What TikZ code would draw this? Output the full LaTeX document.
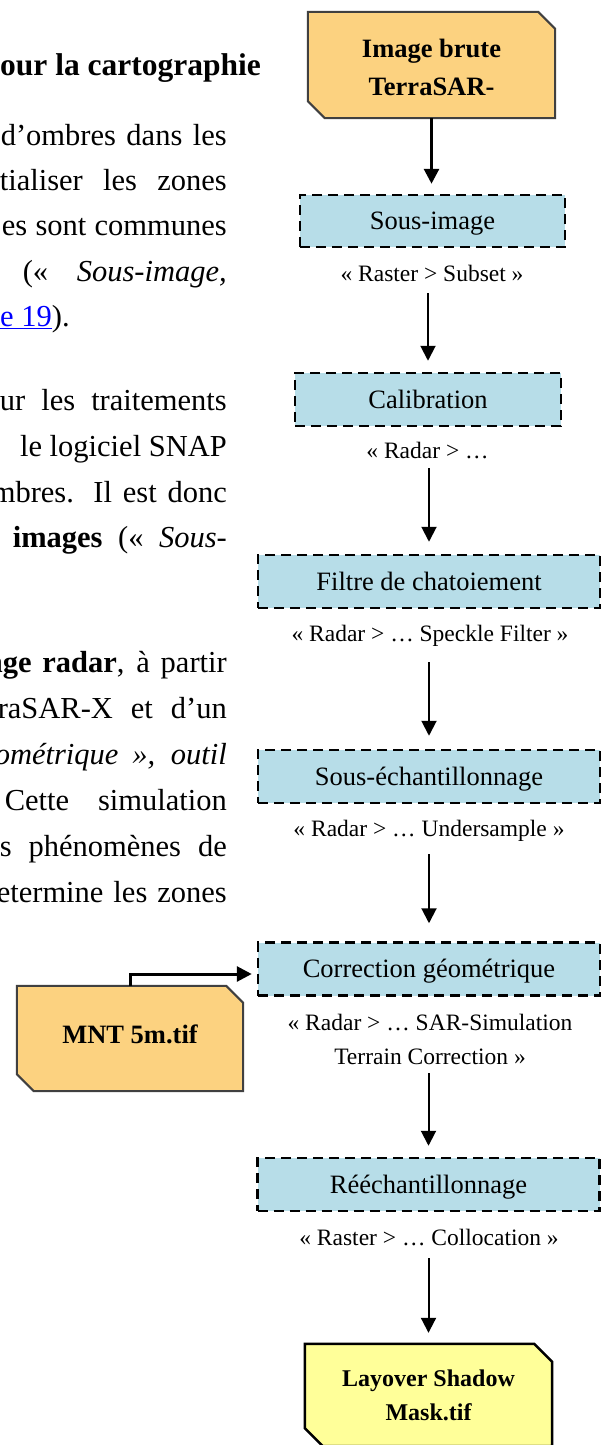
\documentclass[tikz,border=0pt]{standalone}
\usepackage{fontspec}
\setmainfont{Liberation Serif}
\usetikzlibrary{arrows.meta,backgrounds}
\definecolor{orangefill}{RGB}{252,210,128}
\definecolor{bluefill}{RGB}{183,221,232}
\definecolor{yellowfill}{RGB}{255,255,153}
\definecolor{framegray}{RGB}{64,64,64}
\definecolor{linkblue}{RGB}{0,0,255}
\newlength\jlwd
\newcommand\jline[2]{\settowidth\jlwd{#2}\ifdim\jlwd<#1\relax\makebox[#1][s]{#2}\else #2\fi}
\newcommand\cutbox[3]{\path[#3] (#1.north west) -- ([xshift=-#2]#1.north east) -- ([yshift=-#2]#1.north east) -- (#1.south east) -- ([xshift=#2]#1.south west) -- ([yshift=#2]#1.south west) -- cycle;}
\begin{document}
\begin{tikzpicture}[x=1pt,y=-1pt,
  dbox/.style={draw=black, line width=2.5pt, dash pattern=on 10pt off 6pt, fill=bluefill, inner sep=0pt,
    font=\fontsize{26.5}{32}\selectfont, text height=22pt, text depth=5pt},
  wide/.style={minimum width=342pt, minimum height=53pt},
  lbl/.style={inner sep=0pt, anchor=base, font=\fontsize{23.5}{34}\selectfont, text depth=0pt},
  body/.style={inner sep=0pt, anchor=base east, font=\fontsize{30.5}{45}\selectfont},
  tbox/.style={inner sep=0pt, font=\bfseries\fontsize{26.5}{38}\selectfont},
  arr/.style={draw=black, line width=2pt, -{Triangle[width=15pt,length=15pt]}},
]
\useasboundingbox (0,0) rectangle (601,1445);
\begin{scope}[on background layer]
  \fill[white] (0,0) rectangle (601,1445);
\end{scope}

% cropped page text on the left
\begin{scope}
\clip (0,0) rectangle (601,1445);
\node[body, anchor=base west] (t0) at (0,75) {\bfseries\fontsize{31.5}{40}\selectfont our la cartographie};
\node[body] (t1) at (227,145) {\jline{226pt}{d’ombres dans les}};
\node[body] (t2) at (227,190) {\jline{227pt}{tialiser les zones}};
\node[body] (t3) at (227,235) {\jline{225pt}{es sont communes}};
\node[body] (t4) at (227,281) {\jline{204pt}{(« \textit{Sous-image,}}};
\node[body, anchor=base west] (t5) at (0,326) {\textcolor{linkblue}{\underline{e 19}}).};
\node[body] (t6) at (227,410) {\jline{227pt}{ur les traitements}};
\node[body] (t7) at (227,456) {\jline{187pt}{le logiciel SNAP}};
\node[body] (t8) at (227,502) {\jline{235pt}{mbres. Il est donc}};
\node[body] (t9) at (227,547) {\jline{214pt}{\textbf{images} (« \textit{Sous-}}};
\node[body] (t10) at (227,672) {\jline{241pt}{\textbf{nge radar}, à partir}};
\node[body] (t11) at (227,718) {\jline{229pt}{raSAR-X et d’un}};
\node[body] (t12) at (227,764) {\jline{232pt}{\textit{ométrique », outil}}};
\node[body] (t13) at (227,810) {\jline{222pt}{Cette simulation}};
\node[body] (t14) at (227,856) {\jline{227pt}{s phénomènes de}};
\node[body] (t15) at (227,902) {\jline{230pt}{etermine les zones}};
\end{scope}

% diagram
\node[tbox, minimum width=247pt, minimum height=106pt, text height=18pt, text depth=34pt] (img) at (431.5,65)
  {\begin{tabular}[t]{@{}c@{}}Image brute\\TerraSAR-\end{tabular}};
\node[dbox, minimum width=265pt, minimum height=52pt] (sub) at (432.5,221) {Sous-image};
\node[lbl] (lsub) at (432,281) {« Raster > Subset »};
\node[dbox, minimum width=266pt, minimum height=53pt] (cal) at (428,399.5) {Calibration};
\node[lbl] (lcal) at (427.5,458) {« Radar > …};
\node[dbox, wide] (fil) at (429,581.5) {Filtre de chatoiement};
\node[lbl] (lfil) at (430,641) {« Radar > … Speckle Filter »};
\node[dbox, wide] (sech) at (429,776.5) {Sous-échantillonnage};
\node[lbl] (lsech) at (429,836) {« Radar > … Undersample »};
\node[dbox, wide] (corr) at (429,969) {Correction géométrique};
\node[lbl, text depth=34pt] (lcorr) at (430,1030)
  {\begin{tabular}[t]{@{}c@{}}« Radar > … SAR-Simulation\\Terrain Correction »\end{tabular}};
\node[dbox, wide] (reech) at (428.5,1184.5) {Rééchantillonnage};
\node[lbl] (lreech) at (429,1245) {« Raster > … Collocation »};
\node[tbox, font=\bfseries\fontsize{24}{34}\selectfont, minimum width=247pt, minimum height=102pt,
  text height=16pt, text depth=34pt] (lay) at (428.5,1395)
  {\begin{tabular}[t]{@{}c@{}}Layover Shadow\\Mask.tif\end{tabular}};
\node[tbox, minimum width=226pt, minimum height=105pt, text height=18pt, text depth=9pt] (mnt) at (130,1038.5) {MNT 5m.tif};

\begin{scope}[on background layer]
  \cutbox{img}{17pt}{fill=orangefill, draw=framegray, line width=2pt}
  \cutbox{mnt}{17pt}{fill=orangefill, draw=framegray, line width=2pt}
  \cutbox{lay}{18pt}{fill=yellowfill, draw=black, line width=2.5pt}
\end{scope}

% connectors
\draw[arr, line width=3pt, shorten >=10pt] (img.south) -- (img.south |- sub.north);
\draw[arr, shorten <=12pt, shorten >=11pt] (lsub.south -| cal.north) -- (cal.north);
\draw[arr, shorten <=10pt, shorten >=12pt] (lcal.south -| fil.north) -- (fil.north);
\draw[arr, shorten <=21pt, shorten >=13pt] (lfil.south -| sech.north) -- (sech.north);
\draw[arr, shorten <=18pt, shorten >=18pt] (lsech.south -| corr.north) -- (corr.north);
\draw[arr, shorten <=9pt, shorten >=11pt] (lcorr.south -| reech.north) -- (reech.north);
\draw[arr, shorten <=13pt, shorten >=11pt] (lreech.south -| lay.north) -- (lay.north);
\draw[arr, line width=3pt, shorten >=5pt] (mnt.north) |- ([yshift=-5pt]corr.west);
\end{tikzpicture}
\end{document}
